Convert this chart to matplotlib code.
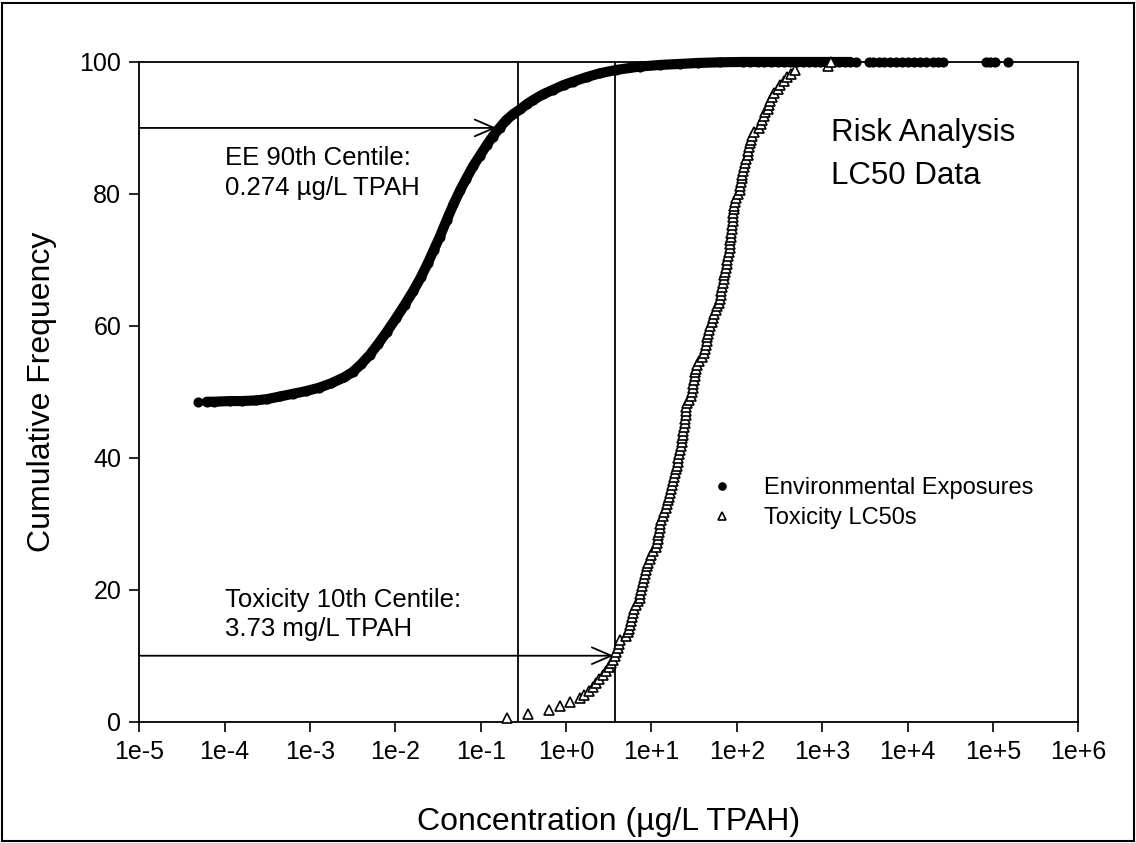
import numpy as np
import matplotlib.pyplot as plt
from matplotlib.patches import Rectangle
from matplotlib.ticker import NullLocator

plt.rcParams['font.family'] = ['Liberation Sans', 'DejaVu Sans']

# Environmental exposures, cumulative frequency (log10 ug/L TPAH, %)
env_log10 = [-4.31,
             -4.21, -4.13, -3.94, -3.80, -3.63, -3.50, -3.35, -3.20, -3.05, -2.90,
             -2.75, -2.60, -2.50, -2.40, -2.30, -2.20, -2.10, -1.99, -1.89, -1.79,
             -1.70, -1.62, -1.55, -1.48, -1.40, -1.32, -1.24, -1.17, -1.09, -1.01,
             -0.93, -0.86, -0.78, -0.70, -0.62, -0.54, -0.46, -0.39, -0.27, -0.15,
             -0.03, 0.08, 0.24, 0.40, 0.59, 0.86, 1.10, 1.33, 1.55, 1.80,
             2.07, 2.15, 2.25, 2.32, 2.40, 2.48, 2.55, 2.62, 2.70, 2.78,
             2.85, 2.92, 2.98, 3.05, 3.12, 3.20, 3.27, 3.33, 3.40,
             3.55, 3.60, 3.66, 3.72, 3.80, 3.86, 3.93, 4.00, 4.08, 4.15,
             4.22, 4.30, 4.36, 4.41, 4.92, 4.97, 5.02, 5.18]
env_freq = [48.5,
            48.5, 48.5, 48.6, 48.6, 48.7, 48.9, 49.3, 49.7, 50.1, 50.6,
            51.3, 52.2, 53.0, 54.2, 55.6, 57.3, 59.1, 61.2, 63.2, 65.3,
            67.4, 69.5, 71.5, 73.5, 76.0, 78.4, 80.6, 82.3, 84.2, 85.8,
            87.4, 88.7, 90.0, 91.2, 92.1, 92.8, 93.6, 94.2, 95.1, 95.8,
            96.5, 97.0, 97.7, 98.3, 98.8, 99.3, 99.55, 99.7, 99.85, 99.95,
            100.0] + [100.0] * 36
# the record is continuous (markers merge into one band) up to 10^3.4
band_end = 69

# Toxicity LC50s, sorted (log10 ug/L TPAH)
tox_log10 = [-0.69, -0.45, -0.20, -0.07, 0.05, 0.16, 0.21, 0.27, 0.32, 0.355,
             0.38, 0.43, 0.465, 0.50, 0.525, 0.545, 0.567, 0.585, 0.605, 0.615,
             0.63, 0.70, 0.725, 0.735, 0.75, 0.76, 0.77, 0.785, 0.80, 0.82,
             0.84, 0.86, 0.87, 0.88, 0.89, 0.90, 0.91, 0.92, 0.935, 0.95,
             0.965, 0.98, 1.00, 1.02, 1.05, 1.07, 1.075, 1.08, 1.09, 1.095,
             1.10, 1.115, 1.13, 1.15, 1.165, 1.18, 1.19, 1.20, 1.215, 1.225,
             1.24, 1.25, 1.26, 1.275, 1.285, 1.295, 1.31, 1.315, 1.325, 1.335,
             1.345, 1.355, 1.36, 1.37, 1.375, 1.385, 1.39, 1.395, 1.40, 1.405,
             1.41, 1.415, 1.44, 1.46, 1.48, 1.485, 1.49, 1.50, 1.505, 1.515,
             1.52, 1.53, 1.56, 1.59, 1.62, 1.63, 1.64, 1.645, 1.65, 1.66,
             1.675, 1.69, 1.705, 1.72, 1.735, 1.755, 1.77, 1.79, 1.80, 1.81,
             1.82, 1.83, 1.84, 1.845, 1.855, 1.86, 1.87, 1.88, 1.89, 1.90,
             1.905, 1.915, 1.92, 1.925, 1.93, 1.935, 1.94, 1.945, 1.95, 1.955,
             1.96, 1.965, 1.97, 1.975, 1.99, 2.01, 2.035, 2.04, 2.05, 2.055,
             2.06, 2.07, 2.08, 2.095, 2.11, 2.125, 2.135, 2.145, 2.155, 2.17,
             2.18, 2.20, 2.26, 2.28, 2.30, 2.32, 2.335, 2.36, 2.375, 2.39,
             2.41, 2.44, 2.48, 2.51, 2.55, 2.585, 2.63, 2.68, 3.065, 3.10]

# centile markers
ee90_conc = 0.274
ee90_freq = 90
ee90_arrow_end = 0.153
tox10_conc = 3.73
tox10_freq = 10
tox10_arrow_end = 3.6

x_decades = list(range(-5, 7))
y_ticks = [0, 20, 40, 60, 80, 100]

env_x = 10.0 ** np.array(env_log10)
env_y = np.array(env_freq)
tox_x = 10.0 ** np.array(tox_log10)
n_tox = len(tox_x)
tox_y = np.arange(1, n_tox + 1) / n_tox * 100

fig = plt.figure(figsize=(11.36, 8.43), dpi=100)
ax = fig.add_axes([0.1226, 0.1439, 0.8266, 0.7826])

ax.plot(env_x[1:band_end], env_y[1:band_end], '-', color='black', lw=7.3,
        solid_capstyle='round', solid_joinstyle='round', clip_on=False, zorder=3)
ax.plot(env_x, env_y, 'o', color='black', ms=7.3, mew=0, ls='none',
        clip_on=False, zorder=4, label='Environmental Exposures')
ax.plot(tox_x, tox_y, '^', mfc='white', mec='black', mew=1.2, ms=6.5,
        ls='none', clip_on=False, zorder=5, label='Toxicity LC50s')

ax.axvline(ee90_conc, color='black', lw=1.3, zorder=2)
ax.axvline(tox10_conc, color='black', lw=1.3, zorder=2)

arrow = dict(arrowstyle='->,head_length=1.4,head_width=0.6', lw=1.3,
             color='black', shrinkA=0, shrinkB=0)
ax.annotate('', xy=(ee90_arrow_end, ee90_freq), xytext=(1e-5, ee90_freq),
            arrowprops=arrow, zorder=2)
ax.annotate('', xy=(tox10_arrow_end, tox10_freq), xytext=(1e-5, tox10_freq),
            arrowprops=arrow, zorder=2)

ax.text(1.0e-4, 87.2, 'EE 90th Centile:\n0.274 µg/L TPAH', fontsize=18.5,
        va='top', ha='left', linespacing=1.28)
ax.text(1.0e-4, 20.2, 'Toxicity 10th Centile:\n3.73 mg/L TPAH', fontsize=18.5,
        va='top', ha='left', linespacing=1.22)
ax.text(1280, 91.5, 'Risk Analysis\nLC50 Data', fontsize=22.5, va='top',
        ha='left', linespacing=1.55)

ax.set_xscale('log')
ax.set_xlim(1e-5, 1e6)
ax.set_ylim(0, 100)
ax.set_xticks([10.0 ** k for k in x_decades])
ax.set_xticklabels([f'1e{k:+d}' for k in x_decades])
ax.xaxis.set_minor_locator(NullLocator())
ax.set_yticks(y_ticks)
ax.tick_params(direction='out', length=7, width=1.2, labelsize=18, pad=6)
for s in ax.spines.values():
    s.set_linewidth(1.3)

ax.set_xlabel('Concentration (µg/L TPAH)', fontsize=23, labelpad=31)
ax.set_ylabel('Cumulative Frequency', fontsize=23, labelpad=16)

ax.legend(loc='center left', bbox_to_anchor=(0.6078, 0.3315), frameon=False,
          fontsize=17, handlelength=1.0, handletextpad=1.3, borderpad=0,
          labelspacing=0.35, markerscale=0.85, borderaxespad=0)

fig.add_artist(Rectangle((0.002, 0.002), 0.996, 0.995, transform=fig.transFigure,
                         fill=False, lw=1.5, edgecolor='black'))

fig.savefig('out.png', dpi=100)
